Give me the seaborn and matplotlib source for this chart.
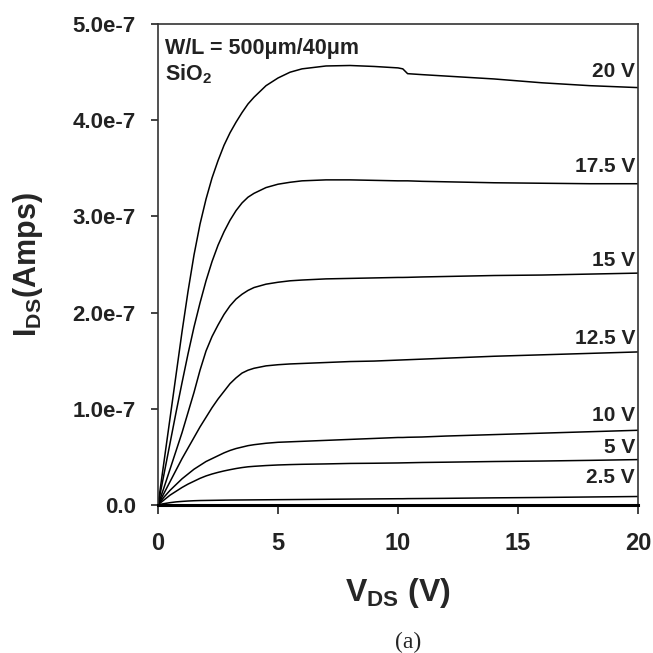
import matplotlib
matplotlib.use("Agg")
import matplotlib.pyplot as plt
import numpy as np
import pandas as pd
import seaborn as sns

# drain voltage grid (V)
vds = [0, 0.25, 0.5, 0.75, 1, 1.25, 1.5, 1.75, 2, 2.25, 2.5, 2.75, 3, 3.25, 3.5, 3.75, 4,
       4.5, 5, 5.5, 6, 7, 8, 9, 10, 10.2, 10.4, 11, 12, 14, 16, 18, 20]

# drain current, units of 1e-7 A, one list per gate voltage
i_20 = [0, 0.45, 0.9, 1.35, 1.8, 2.22, 2.6, 2.92, 3.18, 3.4, 3.58, 3.74, 3.87, 3.98, 4.08, 4.17, 4.24,
        4.36, 4.44, 4.5, 4.535, 4.565, 4.57, 4.56, 4.545, 4.535, 4.485, 4.475, 4.46, 4.43, 4.39, 4.36, 4.34]
i_175 = [0, 0.32, 0.64, 0.96, 1.27, 1.57, 1.85, 2.1, 2.33, 2.53, 2.7, 2.84, 2.96, 3.06, 3.14, 3.2, 3.24,
         3.3, 3.335, 3.355, 3.37, 3.38, 3.38, 3.375, 3.37, 3.37, 3.37, 3.365, 3.36, 3.35, 3.345, 3.34, 3.34]
i_15 = [0, 0.18, 0.37, 0.56, 0.75, 0.96, 1.17, 1.4, 1.6, 1.75, 1.87, 1.98, 2.07, 2.14, 2.19, 2.23, 2.26,
        2.295, 2.315, 2.33, 2.338, 2.35, 2.355, 2.36, 2.365, 2.365, 2.366, 2.37, 2.375, 2.385, 2.39, 2.4, 2.41]
i_125 = [0, 0.12, 0.24, 0.36, 0.48, 0.59, 0.7, 0.81, 0.91, 1.01, 1.1, 1.18, 1.26, 1.32, 1.37, 1.4, 1.42,
         1.445, 1.457, 1.465, 1.47, 1.48, 1.49, 1.495, 1.505, 1.507, 1.509, 1.515, 1.525, 1.545, 1.56, 1.575, 1.59]
i_10 = [0, 0.08, 0.15, 0.21, 0.27, 0.32, 0.37, 0.41, 0.45, 0.48, 0.51, 0.54, 0.565, 0.585, 0.6, 0.615, 0.625,
        0.64, 0.65, 0.655, 0.66, 0.67, 0.68, 0.69, 0.7, 0.7, 0.702, 0.705, 0.715, 0.73, 0.745, 0.76, 0.775]
i_5 = [0, 0.05, 0.1, 0.14, 0.18, 0.215, 0.245, 0.275, 0.3, 0.32, 0.337, 0.352, 0.365, 0.377, 0.387, 0.395, 0.4,
       0.408, 0.414, 0.418, 0.421, 0.425, 0.43, 0.432, 0.435, 0.436, 0.437, 0.44, 0.443, 0.45, 0.455, 0.462, 0.47]
i_25 = [0, 0.012, 0.022, 0.03, 0.035, 0.039, 0.042, 0.044, 0.045, 0.046, 0.047, 0.048, 0.049, 0.0495, 0.05,
        0.0505, 0.051, 0.052, 0.053, 0.054, 0.055, 0.057, 0.059, 0.061, 0.063, 0.063, 0.064, 0.065, 0.067,
        0.072, 0.076, 0.081, 0.086]

gate_names = ["20 V", "17.5 V", "15 V", "12.5 V", "10 V", "5 V", "2.5 V"]
gate_curves = [i_20, i_175, i_15, i_125, i_10, i_5, i_25]
# label baselines, units of 1e-7 A
label_y = [4.45, 3.46, 2.48, 1.67, 0.87, 0.54, 0.23]

y_ticks = [0, 1e-7, 2e-7, 3e-7, 4e-7, 5e-7]
y_tick_labels = ["0.0", "1.0e-7", "2.0e-7", "3.0e-7", "4.0e-7", "5.0e-7"]
x_ticks = [0, 5, 10, 15, 20]

df = pd.DataFrame([
    {"vds": v, "ids": i * 1e-7, "gate": name}
    for name, curve in zip(gate_names, gate_curves)
    for v, i in zip(vds, curve)
])

sns.set_style("ticks")
plt.rcParams["font.family"] = ["Liberation Sans", "DejaVu Sans"]
plt.rcParams["mathtext.fontset"] = "custom"
plt.rcParams["mathtext.rm"] = "Liberation Sans"
plt.rcParams["mathtext.bf"] = "Liberation Sans:bold"

fig = plt.figure(figsize=(6.53, 6.53), dpi=100)
ax = fig.add_axes([0.242, 0.227, 0.735, 0.736])

sns.lineplot(data=df, x="vds", y="ids", hue="gate", palette=["black"] * len(gate_names),
             linewidth=1.1, legend=False, ax=ax, sort=False)

ax.set_xlim(0, 20)
ax.set_ylim(0, 5e-7)
ax.set_xticks(x_ticks)
ax.set_xticklabels([str(t) for t in x_ticks])
ax.set_yticks(y_ticks)
ax.set_yticklabels(y_tick_labels)

for lab in ax.get_xticklabels():
    lab.set_fontsize(17)
    lab.set_fontweight("bold")
for lab in ax.get_yticklabels():
    lab.set_fontsize(16)
    lab.set_fontweight("bold")
ax.tick_params(axis="x", direction="out", length=6.5, width=1.2, pad=13, colors="#222222")
ax.tick_params(axis="y", direction="out", length=5, width=1.2, pad=11, colors="#222222")

for side in ["left", "top", "right"]:
    ax.spines[side].set_visible(True)
    ax.spines[side].set_linewidth(1.2)
    ax.spines[side].set_color("#333333")
ax.spines["bottom"].set_linewidth(2.2)
ax.spines["bottom"].set_color("black")

ax.set_xlabel(r"$\mathbf{V_{DS}}$ (V)", fontsize=23, fontweight="bold")
ax.set_ylabel(r"$\mathbf{I_{DS}}$(Amps)", fontsize=22, fontweight="bold")
ax.xaxis.set_label_coords(0.5, -0.183)
ax.xaxis.label.set_va("center")
ax.yaxis.set_label_coords(-0.27, 0.5)
ax.yaxis.label.set_va("center")

for name, ly in zip(gate_names, label_y):
    ax.text(19.88, ly * 1e-7, name, ha="right", va="baseline", fontsize=15, fontweight="bold",
            color="#222222")

ax.text(0.3, 4.69e-7, "W/L = 500μm/40μm", ha="left", va="baseline", fontsize=15.5,
        fontweight="bold", color="#222222")
ax.text(0.3, 4.41e-7, r"$\mathbf{SiO_2}$", ha="left", va="baseline", fontsize=15.5,
        color="#222222")

fig.text(408 / 653, 1 - 642 / 653, "(a)", ha="center", va="center", fontsize=17,
         family=["Liberation Serif", "DejaVu Serif"])

fig.savefig("out.png", dpi=100)
